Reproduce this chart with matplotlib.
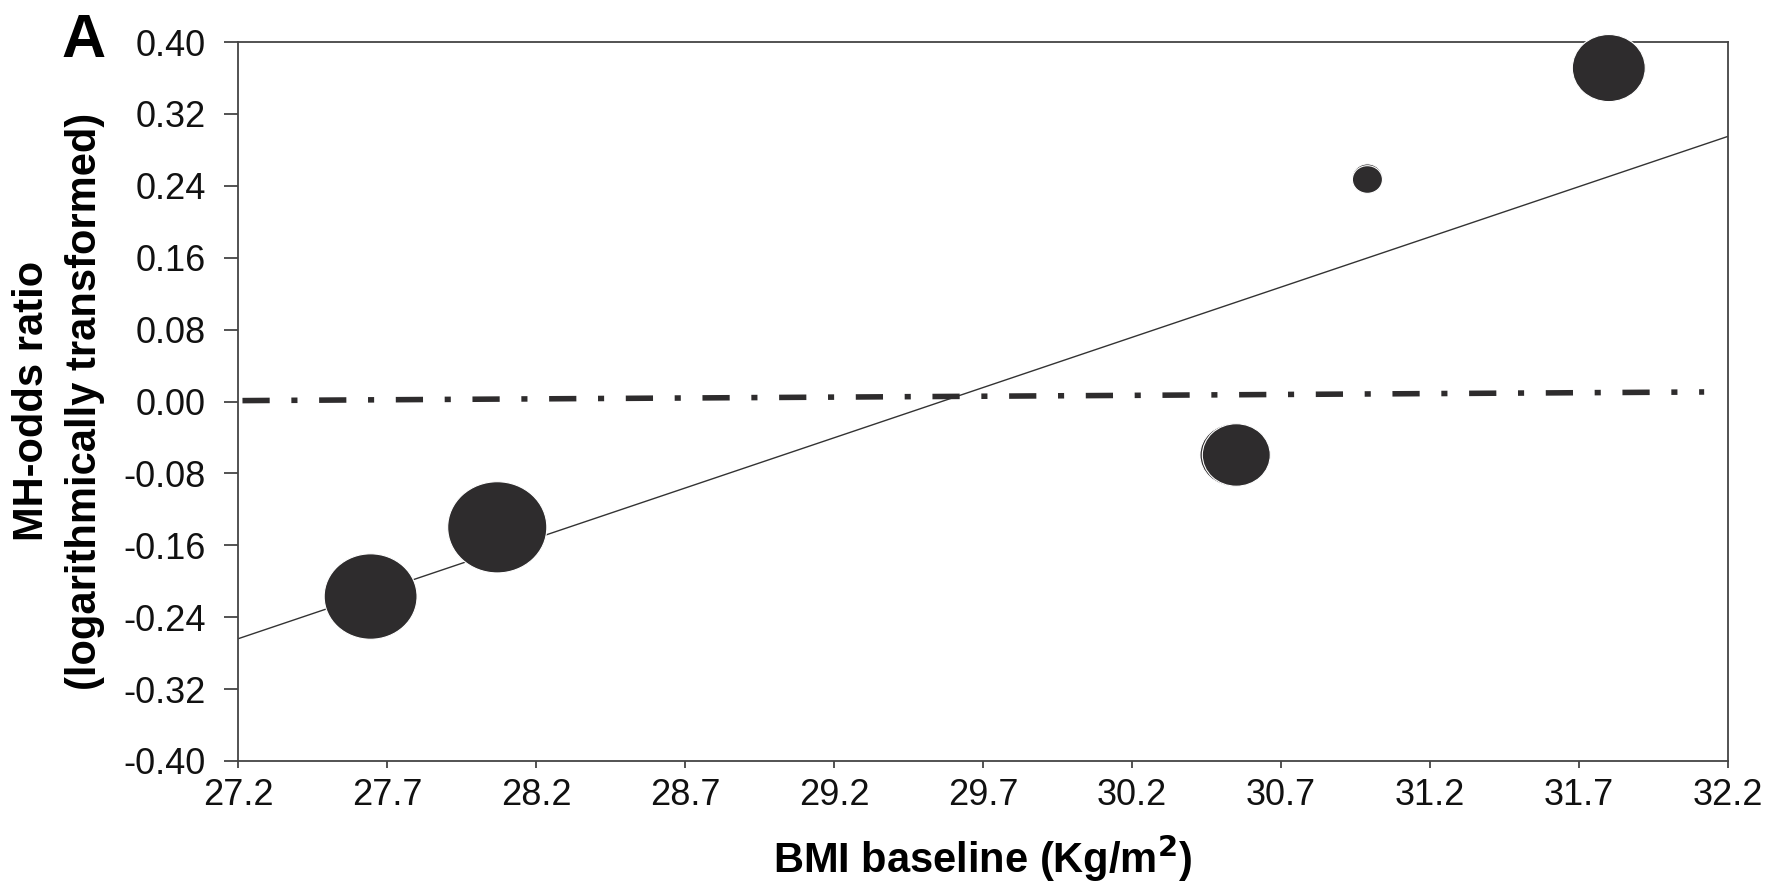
import numpy as np
import matplotlib
matplotlib.use("Agg")
import matplotlib.pyplot as plt
from matplotlib.path import Path
from matplotlib.markers import MarkerStyle
from matplotlib.transforms import Affine2D

plt.rcParams['font.family'] = ['Liberation Sans', 'DejaVu Sans']

# study-level data: mean baseline BMI, log MH odds ratio, relative weight
bmi = [27.645, 28.07, 30.542, 30.55, 30.99, 30.99, 31.80]
log_or = [-0.217, -0.140, -0.0595, -0.0595, 0.249, 0.247, 0.371]
weight = [86, 98, 46, 46, 9, 9, 53]

# meta-regression fit and the null reference line
fit_x = [27.2, 32.2]
fit_y = [-0.264, 0.295]
null_x = [27.215, 32.12]
null_y = [0.001, 0.0106]

xticks = [27.2, 27.7, 28.2, 28.7, 29.2, 29.7, 30.2, 30.7, 31.2, 31.7, 32.2]
yticks = [-0.40, -0.32, -0.24, -0.16, -0.08, 0.00, 0.08, 0.16, 0.24, 0.32, 0.40]

ink = '#2e2c2d'
axc = '#444444'

fig = plt.figure(figsize=(17.67, 8.85), dpi=100)
ax = fig.add_axes([238 / 1767, 1 - 761 / 885, 1490 / 1767, 719 / 885])

ax.plot(fit_x, fit_y, color='#333333', lw=1.0, zorder=2)
ax.plot(null_x, null_y, color=ink, lw=4, ls=(0, (4.9, 3.9, 1.1, 3.9)),
        solid_capstyle='butt', zorder=2)

# slightly flattened bubble
ell = Path.unit_circle().transformed(Affine2D().scale(1.0, 0.92))
bubble = MarkerStyle(ell)
ax.scatter(bmi, log_or, s=np.array(weight) * 52.0, marker=bubble,
           color=ink, edgecolors='white', linewidths=0.8,
           zorder=3, clip_on=False)

ax.set_xlim(27.2, 32.2)
ax.set_ylim(-0.40, 0.40)
ax.set_xticks(xticks)
ax.set_yticks(yticks)
ax.set_xticklabels(['%.1f' % v for v in xticks])
ax.set_yticklabels(['%.2f' % v for v in yticks])

for s in ax.spines.values():
    s.set_color(axc)
    s.set_linewidth(1.3)
ax.tick_params(axis='x', direction='out', length=5, width=1.3, color=axc,
               labelsize=26, pad=7, labelcolor='#111111')
ax.tick_params(axis='y', direction='out', length=10, width=1.3, color=axc,
               labelsize=26, pad=13, labelcolor='#111111')

ax.set_xlabel('BMI baseline (Kg/m$^\\mathbf{2}$)', fontsize=30,
              fontweight='bold', labelpad=14)

fig.text(43 / 1767, 1 - 401 / 885, 'MH-odds ratio', rotation=90,
         rotation_mode='anchor', ha='center', va='baseline',
         fontsize=30, fontweight='bold')
fig.text(96 / 1767, 1 - 401 / 885, '(logarithmically transformed)',
         rotation=90, rotation_mode='anchor', ha='center', va='baseline',
         fontsize=30, fontweight='bold')

fig.text(61 / 1767, 1 - 57 / 885, 'A', ha='left', va='baseline',
         fontsize=44, fontweight='bold')

fig.savefig('out.png', dpi=100)
